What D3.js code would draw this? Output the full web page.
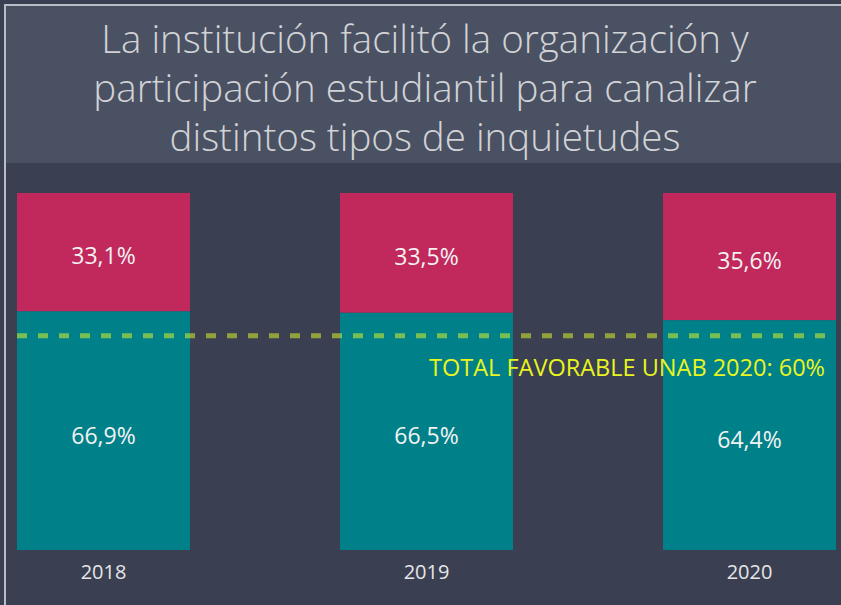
<!DOCTYPE html>
<html>
<head>
<meta charset="utf-8">
<script src="https://cdn.jsdelivr.net/npm/d3@7"></script>
<style>
  html, body { margin: 0; padding: 0; background: #3a3f52; }
  svg { display: block; }
</style>
</head>
<body>
<svg id="chart" width="841" height="605"></svg>
<script>
// Survey results per year: share of unfavourable (top) and favourable (bottom) answers
const years = ["2018", "2019", "2020"];
const unfavorable = [33.1, 33.5, 35.6];
const favorable = [66.9, 66.5, 64.4];
const benchmarkValue = 60;
const benchmarkLabel = "TOTAL FAVORABLE UNAB 2020: 60%";
const titleLines = [
  "La institución facilitó la organización y",
  "participación estudiantil para canalizar",
  "distintos tipos de inquietudes"
];

const W = 841, H = 605;
const svg = d3.select("#chart");
const fmt = v => d3.format(".1f")(v).replace(".", ",") + "%";

// page background
svg.append("rect").attr("width", W).attr("height", H).attr("fill", "#3a3f52");

// title band
svg.append("rect").attr("x", 5).attr("y", 5).attr("width", W - 5).attr("height", 158)
  .attr("fill", "#4a5163");
// frame lines (top and left)
svg.append("rect").attr("x", 4).attr("y", 4).attr("width", W - 4).attr("height", 2).attr("fill", "#b9bdc6");
svg.append("rect").attr("x", 4).attr("y", 4).attr("width", 2).attr("height", H - 4).attr("fill", "#b9bdc6");

svg.append("g").selectAll("text").data(titleLines).join("text")
  .attr("x", 425).attr("y", (d, i) => 53 + i * 49)
  .attr("text-anchor", "middle")
  .attr("font-family", "'Open Sans', sans-serif")
  .attr("font-weight", 300)
  .attr("font-size", 38.5)
  .attr("fill", "#d2d3d6")
  .text(d => d);

// scales
const x = d3.scaleBand().domain(years).range([17, 836]).paddingInner(150 / 323).paddingOuter(0);
const y = d3.scaleLinear().domain([0, 100]).range([550, 193]);

const rows = years.map((yr, i) => ({ year: yr, fav: favorable[i], unf: unfavorable[i] }));

const g = svg.append("g");
// favourable segment (bottom)
g.selectAll("rect.fav").data(rows).join("rect").attr("class", "fav")
  .attr("x", d => x(d.year)).attr("width", x.bandwidth())
  .attr("y", d => y(d.fav)).attr("height", d => y(0) - y(d.fav))
  .attr("fill", "#00818a");
// unfavourable segment (stacked on top)
g.selectAll("rect.unf").data(rows).join("rect").attr("class", "unf")
  .attr("x", d => x(d.year)).attr("width", x.bandwidth())
  .attr("y", d => y(d.fav + d.unf)).attr("height", d => y(d.fav) - y(d.fav + d.unf))
  .attr("fill", "#c1285c");

const labelStyle = sel => sel
  .attr("text-anchor", "middle").attr("dy", "0.35em")
  .attr("font-family", "'Open Sans', sans-serif")
  .attr("font-size", 23).attr("fill", "#f2f2f2");

g.selectAll("text.fav").data(rows).join("text").attr("class", "fav")
  .attr("x", d => x(d.year) + x.bandwidth() / 2)
  .attr("y", d => (y(0) + y(d.fav)) / 2 + 5)
  .call(labelStyle).text(d => fmt(d.fav));
g.selectAll("text.unf").data(rows).join("text").attr("class", "unf")
  .attr("x", d => x(d.year) + x.bandwidth() / 2)
  .attr("y", d => (y(d.fav) + y(d.fav + d.unf)) / 2 + 4)
  .call(labelStyle).text(d => fmt(d.unf));

// category axis
const axis = svg.append("g").attr("transform", `translate(0,${y(0)})`)
  .call(d3.axisBottom(x).tickSize(0).tickPadding(15));
axis.select(".domain").remove();
axis.selectAll("text")
  .attr("font-family", "'Open Sans', sans-serif")
  .attr("font-size", 20).attr("fill", "#e6e6e8");

// benchmark line
svg.append("line")
  .attr("x1", 17).attr("x2", 830)
  .attr("y1", y(benchmarkValue)).attr("y2", y(benchmarkValue))
  .attr("stroke", "#d8f22a").attr("stroke-opacity", 0.55)
  .attr("stroke-width", 5).attr("stroke-dasharray", "10,11");

svg.append("text")
  .attr("x", 825).attr("y", y(benchmarkValue) + 32)
  .attr("dy", "0.35em")
  .attr("text-anchor", "end")
  .attr("font-family", "'Open Sans', sans-serif")
  .attr("font-size", 23.5).attr("fill", "#e8f51e")
  .text(benchmarkLabel);
</script>
</body>
</html>
